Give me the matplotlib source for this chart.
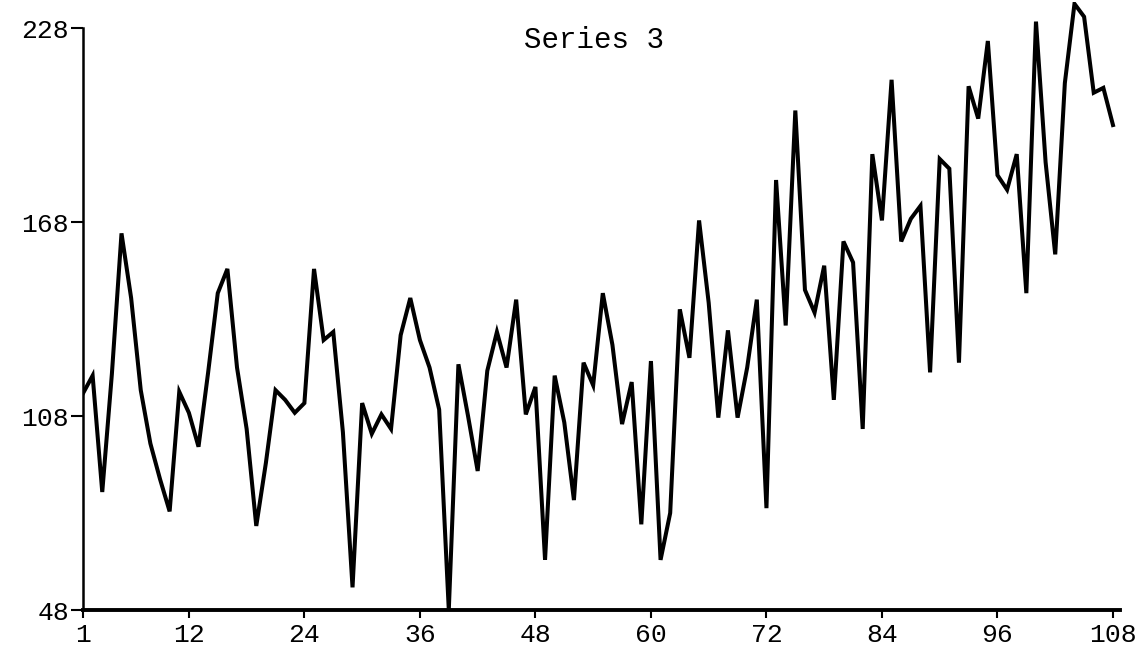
import matplotlib.pyplot as plt
import numpy as np

# monthly series
months = np.arange(1, 109)
series3 = [
    115, 120.5, 84.5, 121, 164.5, 144.5, 116, 99.5, 88.5, 78.5,
    115.5, 109, 98.5, 121.5, 146, 153.5, 123, 104, 74, 93.5,
    116, 113, 109, 112, 153.5, 131.5, 134, 103, 55, 112,
    102.5, 108.5, 104, 133, 144.5, 131.5, 123, 110, 48, 124,
    108, 91, 122, 134, 123, 144, 108.5, 117, 63.5, 120.5,
    106, 82, 124.5, 117.5, 146, 130, 105.5, 118.5, 74.5, 125,
    63.5, 78, 141, 126, 168.5, 143, 107.5, 134.5, 107.5, 123,
    144, 79.5, 181, 136, 202.5, 147, 140, 154.5, 113, 162,
    155.5, 104, 189, 168.5, 212, 162, 169, 173, 121.5, 187.5,
    184.5, 124.5, 210, 200, 224, 182.5, 178, 189, 146, 230,
    186.5, 158, 211, 235.5, 231.5, 208, 209.5, 198,
]
xticks = [1, 12, 24, 36, 48, 60, 72, 84, 96, 108]
yticks = [48, 108, 168, 228]

W, H = 1145, 656
fig = plt.figure(figsize=(W / 100, H / 100), dpi=100)
ax = fig.add_axes([83 / W, (H - 610) / H, (1120 - 83) / W, 608 / H])

ax.plot(months, series3, color='black', lw=2.9, solid_joinstyle='miter')

ax.set_xlim(1, 1 + (1120 - 83) / 9.626)
ax.set_ylim(48, 48 + 608 / 3.233)

for s in ['top', 'right']:
    ax.spines[s].set_visible(False)
ax.spines['left'].set_bounds(48, 228)
ax.spines['left'].set_linewidth(1.8)
ax.spines['bottom'].set_linewidth(2.8)

ax.set_xticks(xticks)
ax.set_yticks(yticks)
ax.tick_params(axis='x', direction='out', length=6, width=1.5, pad=3,
               labelsize=19)
ax.tick_params(axis='y', direction='out', length=9, width=1.5, pad=1,
               labelsize=19)
for lab in ax.get_xticklabels() + ax.get_yticklabels():
    lab.set_family('Liberation Mono')

fig.text(594 / W, 1 - 40 / H, 'Series 3', ha='center', va='center',
         fontsize=21, family='Liberation Mono')

fig.savefig('out.png', dpi=100, facecolor='white')
